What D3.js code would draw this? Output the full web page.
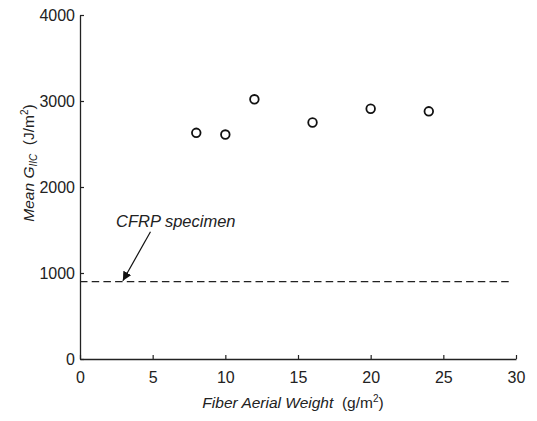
<!DOCTYPE html>
<html>
<head>
<meta charset="utf-8">
<script src="https://cdn.jsdelivr.net/npm/d3@7"></script>
<style>
  html, body { margin: 0; padding: 0; background: #fff; }
  svg { display: block; }
  text { font-family: "Liberation Sans", Arial, Helvetica, sans-serif; fill: #222; }
</style>
</head>
<body>
<svg id="chart" width="537" height="421"></svg>
<script>
// ---- data ----
const fiberWeight = [8, 10, 12, 16, 20, 24];
const meanGIIC = [2630, 2610, 3020, 2750, 2910, 2880];
const cfrpValue = 900;
const cfrpLineEnd = 29.7;
const xTicks = [0, 5, 10, 15, 20, 25, 30];
const yTicks = [0, 1000, 2000, 3000, 4000];
const annotationText = "CFRP specimen";
const annotationTextPos = [2.48, 1540];
const arrowFrom = [4.85, 1480];
const arrowTo = [2.95, 910];

// ---- layout ----
const svg = d3.select("#chart");
const x = d3.scaleLinear().domain([0, 30]).range([80, 516]);
const y = d3.scaleLinear().domain([0, 4000]).range([359, 15]);
const ink = "#222";

// axes
const xAxis = d3.axisBottom(x).tickValues(xTicks).tickFormat(d3.format("d"))
  .tickSizeInner(-4).tickSizeOuter(0).tickPadding(12.5);
const yAxis = d3.axisLeft(y).tickValues(yTicks).tickFormat(d3.format("d"))
  .tickSizeInner(-4).tickSizeOuter(0).tickPadding(5);

const gx = svg.append("g").attr("transform", `translate(0,${y(0)})`).call(xAxis);
const gy = svg.append("g").attr("transform", `translate(${x(0)},0)`).call(yAxis);
[gx, gy].forEach(g => {
  g.select(".domain").attr("stroke", ink).attr("stroke-width", 1.3);
  g.selectAll(".tick line").attr("stroke", ink).attr("stroke-width", 1.2);
  g.selectAll(".tick text").attr("font-size", 16).attr("fill", "#333")
    .attr("font-family", '"Liberation Sans", Arial, sans-serif');
});
gx.selectAll(".tick text").attr("dy", "0.71em");

// dashed CFRP line
svg.append("line")
  .attr("x1", x(0)).attr("x2", x(cfrpLineEnd))
  .attr("y1", y(cfrpValue)).attr("y2", y(cfrpValue))
  .attr("stroke", ink).attr("stroke-width", 1.4)
  .attr("stroke-dasharray", "7.5,4.2");

// points
svg.append("g").selectAll("circle")
  .data(fiberWeight.map((d, i) => [d, meanGIIC[i]]))
  .join("circle")
  .attr("cx", d => x(d[0])).attr("cy", d => y(d[1]))
  .attr("r", 4.3)
  .attr("fill", "none").attr("stroke", "#111").attr("stroke-width", 1.8);

// annotation
svg.append("defs").append("marker")
  .attr("id", "arrow").attr("viewBox", "0 0 10 10")
  .attr("refX", 10).attr("refY", 5)
  .attr("markerWidth", 9).attr("markerHeight", 9)
  .attr("markerUnits", "userSpaceOnUse")
  .attr("orient", "auto")
  .append("path").attr("d", "M0,0 L10,5 L0,10 Z").attr("fill", "#111");

svg.append("line")
  .attr("x1", x(arrowFrom[0])).attr("y1", y(arrowFrom[1]))
  .attr("x2", x(arrowTo[0])).attr("y2", y(arrowTo[1]))
  .attr("stroke", "#111").attr("stroke-width", 1.2)
  .attr("marker-end", "url(#arrow)");

svg.append("text")
  .attr("x", x(annotationTextPos[0])).attr("y", y(annotationTextPos[1]))
  .attr("font-size", 16.5).attr("font-style", "italic")
  .text(annotationText);

// x axis label
const xl = svg.append("text")
  .attr("x", 293).attr("y", 408)
  .attr("text-anchor", "middle").attr("font-size", 15.5);
xl.append("tspan").attr("font-style", "italic").text("Fiber Aerial Weight");
xl.append("tspan").text("\u00a0\u00a0(g/m");
xl.append("tspan").attr("font-size", 10).attr("dy", -6).text("2");
xl.append("tspan").attr("dy", 6).text(")");

// y axis label
const yl = svg.append("text")
  .attr("transform", "translate(34,163) rotate(-90)")
  .attr("text-anchor", "middle").attr("font-size", 15.5);
yl.append("tspan").attr("font-style", "italic").text("Mean G");
yl.append("tspan").attr("font-style", "italic").attr("font-size", 10).attr("dy", 3).text("IIC");
yl.append("tspan").attr("dy", -3).text("\u00a0\u00a0(J/m");
yl.append("tspan").attr("font-size", 10).attr("dy", -6).text("2");
yl.append("tspan").attr("dy", 6).text(")");
</script>
</body>
</html>
